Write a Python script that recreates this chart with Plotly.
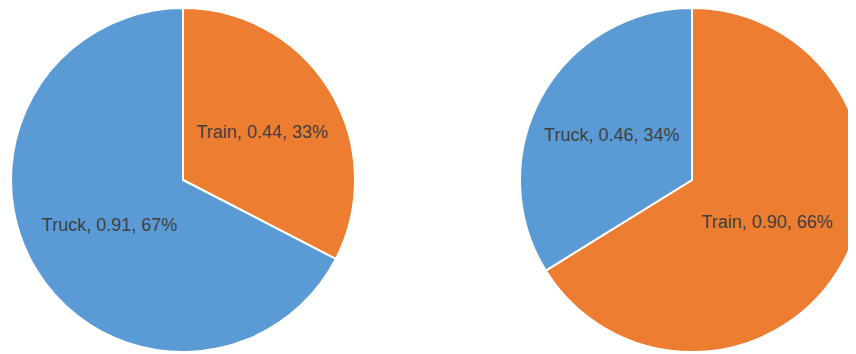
import plotly.graph_objects as go

labels = ["Train", "Truck"]
left_values = [0.44, 0.91]
right_values = [0.90, 0.46]
colors = ["#ED7D31", "#5B9BD5"]

W, H = 856, 354

fig = go.Figure()
common = dict(
    labels=labels,
    sort=False,
    direction="clockwise",
    rotation=0,
    marker=dict(colors=colors, line=dict(color="white", width=2)),
    texttemplate="%{label}, %{value:.2f}, %{percent:.0%}",
    textposition="inside",
    insidetextorientation="horizontal",
    textfont=dict(family="Liberation Sans, Arial, sans-serif", size=18, color="#404040"),
    hoverinfo="label+value+percent",
    showlegend=False,
)
fig.add_trace(go.Pie(values=left_values, domain=dict(x=[3 / W, 347 / W], y=[0, 1]), **common))
fig.add_trace(go.Pie(values=right_values, domain=dict(x=[512 / W, 1.0], y=[0, 1]), **common))

fig.update_layout(
    width=W,
    height=H,
    margin=dict(l=0, r=0, t=0, b=10),
    paper_bgcolor="white",
    plot_bgcolor="white",
)

fig.write_html("out.html")
